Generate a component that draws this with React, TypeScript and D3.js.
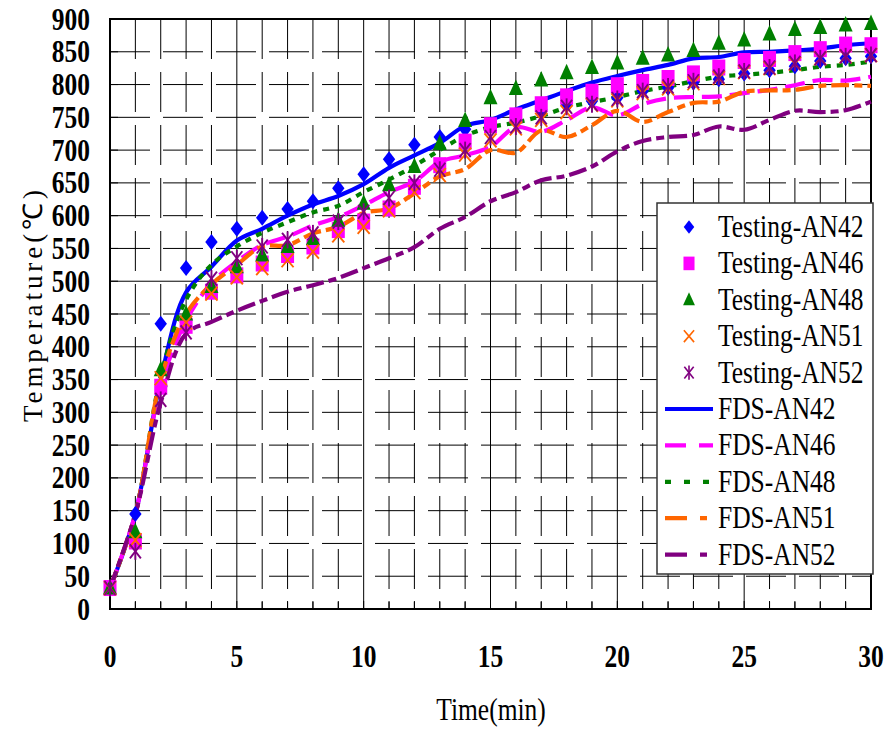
import React from "react";
import * as d3 from "d3";

const times = [0,1,2,3,4,5,6,7,8,9,10,11,12,13,14,15,16,17,18,19,20,21,22,23,24,25,26,27,28,29,30];

const testAN42 = [32,145,435,520,560,580,597,610,622,642,663,686,708,720,732,740,752,762,769,775,780,790,795,803,808,817,822,828,836,840,843];
const testAN46 = [32,103,339,432,484,509,527,540,553,578,591,611,644,677,713,738,753,770,782,789,799,804,810,817,826,836,839,848,854,861,860];
const testAN48 = [32,118,365,450,492,522,540,553,565,593,619,647,675,710,745,780,794,807,818,826,833,840,845,852,863,868,877,884,887,891,893];
const testAN51 = [32,105,352,437,481,506,520,532,545,570,583,608,636,662,693,715,733,746,758,769,776,787,794,802,810,819,825,832,840,843,845];
const testAN52 = [32,88,319,422,504,535,553,563,573,591,606,627,650,670,700,720,736,750,766,770,778,790,797,805,812,820,826,833,840,843,845];

const fdsAN42 = [32,145,350,483,522,562,580,600,617,630,648,673,692,711,737,746,762,776,790,803,813,822,830,840,842,849,850,852,855,860,863];
const fdsAN46 = [32,145,340,440,497,530,555,568,585,598,616,636,652,682,692,705,735,728,746,765,753,770,779,781,782,787,792,799,807,806,812];
const fdsAN48 = [32,145,355,472,525,553,574,590,605,615,636,655,676,700,722,735,742,752,765,773,781,790,797,805,812,815,818,822,827,830,835];
const fdsAN51 = [32,145,350,450,495,525,553,555,573,583,604,611,634,660,671,700,696,730,720,738,760,743,758,772,774,789,791,792,798,799,798];
const fdsAN52 = [32,145,315,420,438,455,470,484,494,505,520,535,552,580,598,622,636,654,661,675,698,714,720,723,736,731,746,760,758,761,774];

const yTicks = [0,50,100,150,200,250,300,350,400,450,500,550,600,650,700,750,800,850,900];
const xTicks = [0,5,10,15,20,25,30];
const minorX = times;

const testNames = ["Testing-AN42","Testing-AN46","Testing-AN48","Testing-AN51","Testing-AN52"];
const fdsNames = ["FDS-AN42","FDS-AN46","FDS-AN48","FDS-AN51","FDS-AN52"];
const colors = ["#0000ff","#ff00ff","#008000","#ff6600","#800080"];
const shapes = ["diamond","square","triangle","x","asterisk"];
const dashes = ["none","20 8","6 6","18 5 8 5","18 5 8 5"];
const legendDashes = ["none","21 13","6 13","22 13 7 13","22 13 7 13"];

const testSeries = [testAN42,testAN46,testAN48,testAN51,testAN52];
const fdsSeries = [fdsAN42,fdsAN46,fdsAN48,fdsAN51,fdsAN52];

const FONT = "'Liberation Serif','Times New Roman',serif";

function Marker({shape,color,cx,cy,s=1}:{shape:string;color:string;cx:number;cy:number;s?:number}) {
  const t = `translate(${cx},${cy}) scale(${s})`;
  if (shape==="diamond") return <path transform={t} d="M0,-8L6.2,0L0,8L-6.2,0Z" fill={color}/>;
  if (shape==="square") return <rect transform={t} x={-6.5} y={-8} width={13} height={16} fill={color}/>;
  if (shape==="triangle") return <path transform={t} d="M0,-9L7,6.5L-7,6.5Z" fill={color}/>;
  if (shape==="x") return <g transform={t} stroke={color} strokeWidth={1.9}><line x1={-6} y1={-7} x2={6} y2={7}/><line x1={6} y1={-7} x2={-6} y2={7}/></g>;
  return <g transform={t} stroke={color} strokeWidth={1.9}><line x1={-5.5} y1={-7} x2={5.5} y2={7}/><line x1={5.5} y1={-7} x2={-5.5} y2={7}/><line x1={0} y1={-8.5} x2={0} y2={8.5}/></g>;
}

function T({x,y,sy=1.18,children,...rest}:any) {
  return <text transform={`translate(${x},${y}) scale(1,${sy})`} {...rest}>{children}</text>;
}

export default function App() {
  const x = d3.scaleLinear().domain([0,30]).range([110,871]);
  const y = d3.scaleLinear().domain([0,900]).range([609,19]);
  const [x0,x1] = x.range();
  const [y0,y1] = y.range();
  const line = d3.line<number>().x((_,i)=>x(times[i])).y(d=>y(d)).curve(d3.curveCatmullRom.alpha(0.5));

  const legX = 657, legY = 203, legW = 216, legH = 371;
  const entryY = (i:number)=> 227 + i*36.4;

  return (
    <svg width={888} height={729} style={{position:"absolute",left:0,top:0,background:"#fff"}} fontFamily={FONT}>
      <rect x={0} y={0} width={888} height={729} fill="#fff"/>
      {minorX.filter(t=>t%5!==0).map(t=>(
        <line key={"vx"+t} x1={x(t)} x2={x(t)} y1={y1} y2={y0} stroke="#000" strokeWidth={1} strokeDasharray="40 13"/>
      ))}
      {xTicks.filter(t=>t>0&&t<30).map(t=>(
        <line key={"vM"+t} x1={x(t)} x2={x(t)} y1={y1} y2={y0} stroke="#000" strokeWidth={1}/>
      ))}
      {yTicks.filter(v=>v>0&&v<900).map(v=>(
        <line key={"hy"+v} x1={x0} x2={x1} y1={y(v)} y2={y(v)} stroke="#000" strokeWidth={1} strokeDasharray={v===500?"none":"40 13"}/>
      ))}
      {minorX.map(t=>(
        <line key={"bt"+t} x1={x(t)} x2={x(t)} y1={y0} y2={y0-8} stroke="#000" strokeWidth={1}/>
      ))}
      {yTicks.map(v=>(
        <line key={"lt"+v} x1={x0} x2={x0+8} y1={y(v)} y2={y(v)} stroke="#000" strokeWidth={1}/>
      ))}
      <rect x={x0} y={y1} width={x1-x0} height={y0-y1} fill="none" stroke="#000" strokeWidth={2}/>

      {fdsSeries.map((s,i)=>(
        <path key={"f"+i} d={line(s)!} fill="none" stroke={colors[i]} strokeWidth={4.2} strokeDasharray={dashes[i]==="none"?undefined:dashes[i]}/>
      ))}
      {testSeries.map((s,i)=>(
        <g key={"t"+i}>
          {s.map((v,j)=>(<Marker key={j} shape={shapes[i]} color={colors[i]} cx={x(times[j])} cy={y(v)}/>))}
        </g>
      ))}

      {yTicks.map(v=>(
        <T key={"yl"+v} x={90} y={y(v)+10.5} sy={1.2} textAnchor="end" fontWeight="bold" fontSize={25.5} fill="#000">{v}</T>
      ))}
      {xTicks.map(t=>(
        <T key={"xl"+t} x={x(t)} y={667} sy={1.2} textAnchor="middle" fontWeight="bold" fontSize={25.5} fill="#000">{t}</T>
      ))}
      <T x={491} y={720} sy={1.2} textAnchor="middle" fontSize={25.5} fill="#000">Time(min)</T>
      <text transform="translate(42,306) rotate(-90)" textAnchor="middle" fontSize={27} fill="#000" textLength={232} lengthAdjust="spacing">Temperature(℃)</text>

      <rect x={legX} y={legY} width={legW} height={legH} fill="#fff" stroke="#333" strokeWidth={1.5}/>
      {testNames.map((n,i)=>(
        <g key={"lg"+i}>
          <Marker shape={shapes[i]} color={colors[i]} cx={689} cy={entryY(i)} s={0.85}/>
          <T x={718} y={entryY(i)+10} sy={1.2} fontSize={25.5} fill="#000">{n}</T>
        </g>
      ))}
      {fdsNames.map((n,i)=>(
        <g key={"lf"+i}>
          <line x1={665} x2={713} y1={entryY(i+5)} y2={entryY(i+5)} stroke={colors[i]} strokeWidth={4.2} strokeDasharray={legendDashes[i]==="none"?undefined:legendDashes[i]}/>
          <T x={718} y={entryY(i+5)+10} sy={1.2} fontSize={25.5} fill="#000">{n}</T>
        </g>
      ))}
    </svg>
  );
}
